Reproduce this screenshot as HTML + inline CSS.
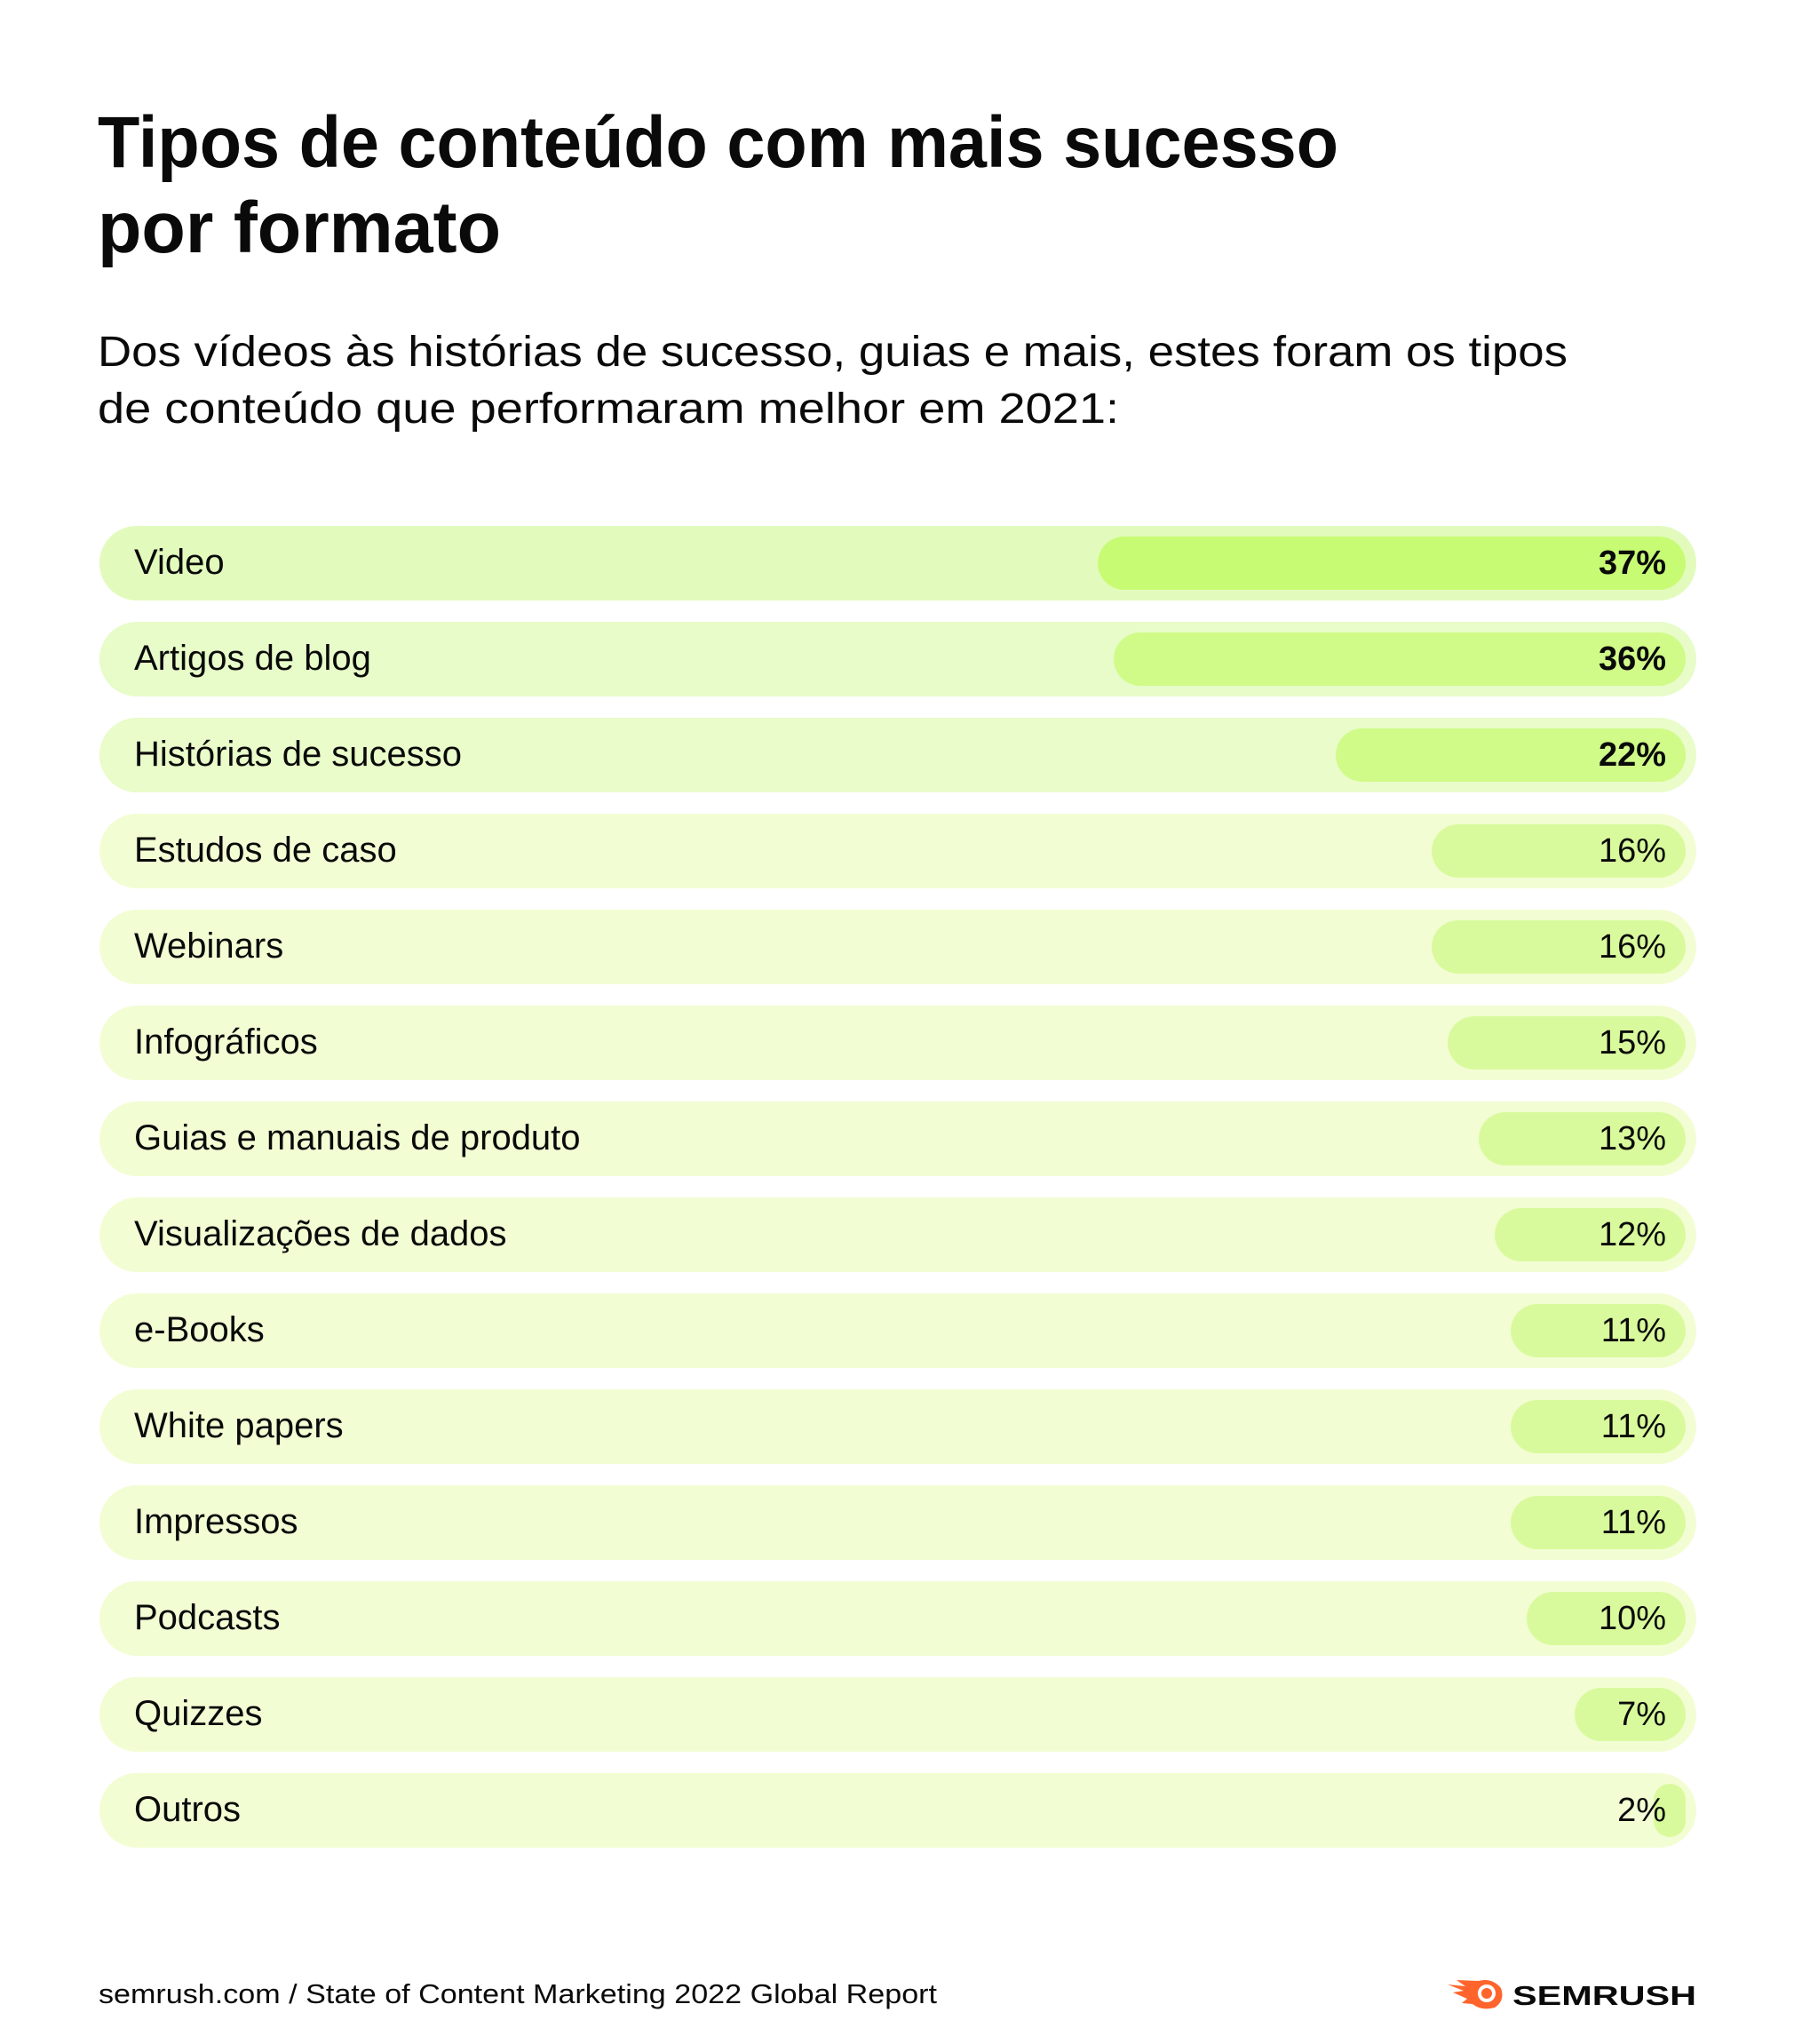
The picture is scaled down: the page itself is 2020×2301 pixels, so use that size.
<!DOCTYPE html>
<html><head><meta charset="utf-8"><style>
html,body{margin:0;padding:0;background:#fff;}
svg{display:block;}
text{font-family:"Liberation Sans",sans-serif;fill:#0a0a0a;}
</style></head><body>
<svg width="2020" height="2301" viewBox="0 0 2020 2301" xmlns="http://www.w3.org/2000/svg">
<rect width="2020" height="2301" fill="#fff"/>
<text x="110" y="188" font-size="82" font-weight="bold" textLength="1397" lengthAdjust="spacingAndGlyphs">Tipos de conteúdo com mais sucesso</text>
<text x="110" y="284" font-size="82" font-weight="bold" textLength="454" lengthAdjust="spacingAndGlyphs">por formato</text>
<text x="110" y="412" font-size="48" textLength="1655" lengthAdjust="spacingAndGlyphs">Dos vídeos às histórias de sucesso, guias e mais, estes foram os tipos</text>
<text x="110" y="476" font-size="48" textLength="1150" lengthAdjust="spacingAndGlyphs">de conteúdo que performaram melhor em 2021:</text>

<g id="rows">
<rect x="112" y="592" width="1798" height="84" rx="42" fill="#e2fbbd"/>
<rect x="1236" y="604" width="662" height="60" rx="30" fill="#c8fb74"/>
<text x="151" y="646" font-size="40">Video</text>
<text x="1876" y="646" font-size="38" font-weight="bold" text-anchor="end">37%</text>

<rect x="112" y="700" width="1798" height="84" rx="42" fill="#e7fcc9"/>
<rect x="1254" y="712" width="644" height="60" rx="30" fill="#d0fb88"/>
<text x="151" y="754" font-size="40">Artigos de blog</text>
<text x="1876" y="754" font-size="38" font-weight="bold" text-anchor="end">36%</text>

<rect x="112" y="808" width="1798" height="84" rx="42" fill="#e9fcc9"/>
<rect x="1504" y="820" width="394" height="60" rx="30" fill="#d0fb88"/>
<text x="151" y="862" font-size="40">Histórias de sucesso</text>
<text x="1876" y="862" font-size="38" font-weight="bold" text-anchor="end">22%</text>

<rect x="112" y="916" width="1798" height="84" rx="42" fill="#f3fdd4"/>
<rect x="1612" y="928" width="286" height="60" rx="30" fill="#d9fa9c"/>
<text x="151" y="970" font-size="40">Estudos de caso</text>
<text x="1876" y="970" font-size="38" text-anchor="end">16%</text>

<rect x="112" y="1024" width="1798" height="84" rx="42" fill="#f3fdd4"/>
<rect x="1612" y="1036" width="286" height="60" rx="30" fill="#d9fa9c"/>
<text x="151" y="1078" font-size="40">Webinars</text>
<text x="1876" y="1078" font-size="38" text-anchor="end">16%</text>

<rect x="112" y="1132" width="1798" height="84" rx="42" fill="#f3fdd4"/>
<rect x="1630" y="1144" width="268" height="60" rx="30" fill="#d9fa9c"/>
<text x="151" y="1186" font-size="40">Infográficos</text>
<text x="1876" y="1186" font-size="38" text-anchor="end">15%</text>

<rect x="112" y="1240" width="1798" height="84" rx="42" fill="#f3fdd4"/>
<rect x="1665" y="1252" width="233" height="60" rx="30" fill="#d9fa9c"/>
<text x="151" y="1294" font-size="40">Guias e manuais de produto</text>
<text x="1876" y="1294" font-size="38" text-anchor="end">13%</text>

<rect x="112" y="1348" width="1798" height="84" rx="42" fill="#f3fdd4"/>
<rect x="1683" y="1360" width="215" height="60" rx="30" fill="#d9fa9c"/>
<text x="151" y="1402" font-size="40">Visualizações de dados</text>
<text x="1876" y="1402" font-size="38" text-anchor="end">12%</text>

<rect x="112" y="1456" width="1798" height="84" rx="42" fill="#f3fdd4"/>
<rect x="1701" y="1468" width="197" height="60" rx="30" fill="#d9fa9c"/>
<text x="151" y="1510" font-size="40">e-Books</text>
<text x="1876" y="1510" font-size="38" text-anchor="end">11%</text>

<rect x="112" y="1564" width="1798" height="84" rx="42" fill="#f3fdd4"/>
<rect x="1701" y="1576" width="197" height="60" rx="30" fill="#d9fa9c"/>
<text x="151" y="1618" font-size="40">White papers</text>
<text x="1876" y="1618" font-size="38" text-anchor="end">11%</text>

<rect x="112" y="1672" width="1798" height="84" rx="42" fill="#f3fdd4"/>
<rect x="1701" y="1684" width="197" height="60" rx="30" fill="#d9fa9c"/>
<text x="151" y="1726" font-size="40">Impressos</text>
<text x="1876" y="1726" font-size="38" text-anchor="end">11%</text>

<rect x="112" y="1780" width="1798" height="84" rx="42" fill="#f3fdd4"/>
<rect x="1719" y="1792" width="179" height="60" rx="30" fill="#d9fa9c"/>
<text x="151" y="1834" font-size="40">Podcasts</text>
<text x="1876" y="1834" font-size="38" text-anchor="end">10%</text>

<rect x="112" y="1888" width="1798" height="84" rx="42" fill="#f3fdd4"/>
<rect x="1773" y="1900" width="125" height="60" rx="30" fill="#d9fa9c"/>
<text x="151" y="1942" font-size="40">Quizzes</text>
<text x="1876" y="1942" font-size="38" text-anchor="end">7%</text>

<rect x="112" y="1996" width="1798" height="84" rx="42" fill="#f3fdd4"/>
<rect x="1862" y="2008" width="36" height="60" rx="18" fill="#d9fa9c"/>
<text x="151" y="2050" font-size="40">Outros</text>
<text x="1876" y="2050" font-size="38" text-anchor="end">2%</text>
</g>

<text x="111" y="2255" font-size="31" textLength="944" lengthAdjust="spacingAndGlyphs">semrush.com / State of Content Marketing 2022 Global Report</text>

<g>
<path d="M1630 2234 L1650 2236 L1640 2229 L1665 2230 Q1680 2226 1690 2238 Q1695 2252 1683 2260 Q1668 2264 1658 2256 L1646 2255 L1652 2250 L1636 2243 L1648 2241 Z" fill="#ff642d"/>
<circle cx="1674" cy="2244" r="10" fill="#fff"/>
<circle cx="1674" cy="2244" r="6" fill="#ff642d"/>
<text x="1703" y="2257" font-size="31" font-weight="bold" textLength="207" lengthAdjust="spacingAndGlyphs">SEMRUSH</text>
</g>
</svg>
</body></html>
